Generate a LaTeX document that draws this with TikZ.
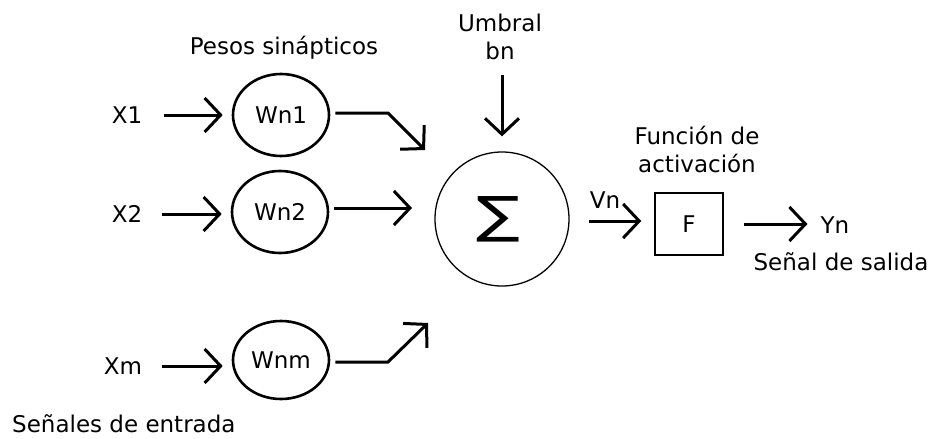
\documentclass[tikz,border=0pt]{standalone}
\usepackage{fontspec}
\setmainfont{DejaVu Sans}
\usetikzlibrary{shapes.geometric,arrows.meta}
\tikzset{
  lbl/.style={inner sep=0pt,font=\fontsize{23}{28}\selectfont},
  wnode/.style={ellipse,draw,line width=2.6pt,minimum width=96pt,minimum height=82pt,inner sep=0pt,font=\fontsize{23}{28}\selectfont},
  arr/.style={line width=3pt,-{Straight Barb[length=16pt,width=34pt]}},
}
\begin{document}
\begin{tikzpicture}[x=1pt,y=-1pt]
\useasboundingbox[fill=white] (0,0) rectangle (930,439);
% inputs
\node[lbl] (x1) at (127,115) {X1};
\node[lbl] (x2) at (127,214) {X2};
\node[lbl] (xm) at (123,366) {Xm};
% weights
\node[wnode] (w1) at (281,115) {Wn1};
\node[wnode] (w2) at (280,212) {Wn2};
\node[wnode,minimum height=78pt] (wm) at (281,360) {Wnm};
\node[lbl] (pesos) at (284,48) {Pesos sinápticos};
\node[lbl,anchor=west] (sen) at (12,424) {Señales de entrada};
% summation
\node[circle,draw,line width=1.3pt,minimum size=134pt,inner sep=0pt] (sig) at (502,219) {};
\node[inner sep=0pt,font=\fontsize{50}{50}\selectfont] (sym) at (498,219) {\scalebox{1.3}[1]{∑}};
\node[lbl,align=center] (umb) at (500,37) {Umbral\\bn};
% activation
\node[draw,line width=1.5pt,minimum width=68pt,minimum height=62pt,inner sep=0pt,font=\fontsize{23}{28}\selectfont] (f) at (689,224) {F};
\node[lbl,align=center] (func) at (697,149) {Función de\\activación};
\node[lbl] (vn) at (605,200) {Vn};
\node[lbl] (yn) at (835,225) {Yn};
\node[lbl] (sal) at (841,262) {Señal de salida};
% coordinates
\coordinate (b1) at (388,113);
\coordinate (t1) at (425,150);
\coordinate (t2) at (412,208);
\coordinate (bm) at (388,362);
\coordinate (tm) at (428,323);
% connectors
\draw[arr] ([xshift=22pt]x1.east) -- ([xshift=-9pt]x1.east -| w1.west);
\draw[arr] ([xshift=20pt]x2.east) -- ([xshift=-9pt]x2.east -| w2.west);
\draw[arr] ([xshift=20pt]xm.east) -- ([xshift=-9pt]xm.east -| wm.west);
\draw[arr] ([xshift=5pt]w1.east |- b1) -- (b1) -- (t1);
\draw[arr] ([xshift=5pt]w2.east |- t2) -- (t2);
\draw[arr] ([xshift=5pt]wm.east |- bm) -- (bm) -- (tm);
\draw[arr] ([yshift=-15pt]umb.south -| sig.north) -- ([yshift=15pt]sig.north);
\draw[arr] ([xshift=19pt,yshift=-2pt]sig.east) -- ([xshift=-13pt,yshift=-2pt]sig.east -| f.west);
\draw[arr] ([xshift=20pt]f.east) -- ([xshift=-13pt]f.east -| yn.west);
\end{tikzpicture}
\end{document}
